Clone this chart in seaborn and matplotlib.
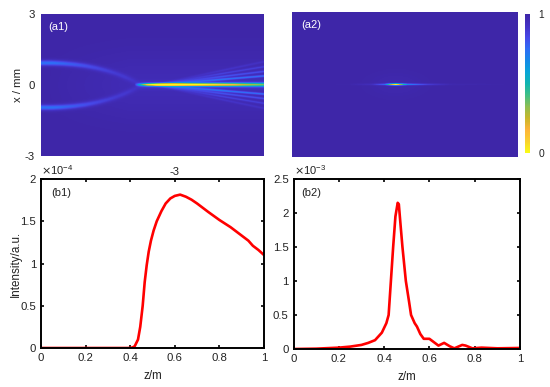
import numpy as np
import matplotlib
matplotlib.use("Agg")
import matplotlib.pyplot as plt
from matplotlib.colors import LinearSegmentedColormap
import seaborn as sns

sns.set_style("white")
plt.rcParams['font.family'] = ['Liberation Sans', 'DejaVu Sans']
plt.rcParams['font.size'] = 8

# (b1) on-axis intensity
b1_z = [0, .2, .39, .40, .41, .42, .435, .445, .456, .465, .474, .483, .493, .505, .519, .54, .559, .58, .60, .624,
        .65, .675, .70, .75, .80, .85, .90, .93, .95, .975, 1.0]
b1_i = [0, 0, 0, 0.002, .006, .02, .10, .25, .50, .78, .98, 1.14, 1.27, 1.39, 1.50, 1.62, 1.71, 1.77, 1.80, 1.815,
        1.79, 1.755, 1.71, 1.61, 1.515, 1.43, 1.33, 1.27, 1.21, 1.16, 1.10]
# (b2) on-axis intensity
b2_z = [0, .1, .2, .25, .3, .33, .36, .39, .41, .42, .43, .44, .45, .46, .465, .472, .481, .496, .51, .519, .535,
        .545, .56, .575, .60, .62, .64, .665, .69, .71, .745, .76, .79, .83, .9, 1.0]
b2_i = [0, .005, .02, .035, .06, .09, .13, .24, .38, .50, 1.0, 1.5, 1.95, 2.15, 2.13, 1.85, 1.5, 1.0, .70, .50, .38,
        .33, .22, .15, .15, .10, .05, .09, .04, .01, .06, .05, .01, .02, .01, .015]

# (a1) field read-offs: ridge position, ridge height, core profile, fringes
arc_z = [0, .05, .1, .15, .2, .25, .3, .34, .38, .41, .44]
arc_x = [.92, .92, .90, .86, .80, .71, .59, .47, .32, .19, .04]
arc_h = [.26, .26, .23, .20, .17, .14, .11, .09, .08, .06, .05]
core_z = [0, .42, .44, .46, .48, .52, .60, .70, .78, .86, .92, 1.0]
core_h = [0, 0, .30, .55, .80, .97, 1.0, .90, .82, .72, .62, .52]
fringe_slope = [.38, .57, .77, .98]
fringe_h = [.26, .17, .12, .07]
# (a2) focal spot read-offs
spot_z = [0, .25, .35, .41, .44, .46, .48, .51, .60, .70, 1.0]
spot_h = [0, .005, .05, .22, .75, 1.0, .70, .30, .12, .02, 0]

parula_rev = ['#f9fb15', '#f9d12e', '#fdb43a', '#c8b72a', '#8dbe52', '#3fbf85', '#10b5b0', '#08a5d8',
              '#1589e8', '#2f6cf5', '#4648e8', '#4331c4', '#3e26a8']
cmap = LinearSegmentedColormap.from_list('parula_r', parula_rev)

nz, nx = 446, 285
z = np.linspace(0, 1, nz)
x = np.linspace(3, -3, nx)
Z, X = np.meshgrid(z, x)

def gauss(v, c, w):
    return np.exp(-((v - c) / w) ** 2)

def soften(a, n):
    k = np.hanning(2 * n + 3)[1:-1]
    k = k / k.sum()
    return np.apply_along_axis(lambda r: np.convolve(np.pad(r, n, mode='edge'), k, mode='valid'), 1, a)

# a1
arc_pos = np.interp(Z, arc_z, arc_x)
arc_amp = np.interp(Z, arc_z, arc_h)
I1 = arc_amp * (gauss(X, arc_pos + .01, .12) + gauss(X, -arc_pos - .03, .12))
I1 = soften(I1, 8)
I1 += 0.04 * gauss(X, 0, 1.3) * np.clip(Z * 2.5, 0, 1)
I1 += np.interp(Z, core_z, core_h) * gauss(X, 0.015, .04 + .04 * Z)
fan = np.clip((Z - .5) / .5, 0, 1)
for s, h in zip(fringe_slope, fringe_h):
    for sign in (1, -1):
        I1 += h * np.clip(fan * 1.6, 0, 1) * (1 - .2 * fan) * gauss(X, sign * s * fan, .05)
I1 = np.clip(I1, 0, 1)
field1 = 1 - I1

# a2
I2 = np.interp(Z, spot_z, spot_h) * gauss(X, 0.005, .04)
I2 += .02 * gauss(Z, .46, .12) * gauss(X, 0, .5)
field2 = 1 - np.clip(I2, 0, 1)

fig = plt.figure(figsize=(5.5, 3.87), dpi=100)
W, H = 550, 387
def box(l, t, r, b):
    return [l / W, 1 - b / H, (r - l) / W, (b - t) / H]

a1 = fig.add_axes(box(40.5, 13.5, 263.5, 156))
a2 = fig.add_axes(box(292, 12, 518, 157))
cb = fig.add_axes(box(525, 14, 530, 153))
b1 = fig.add_axes(box(41, 179, 264, 348))
b2 = fig.add_axes(box(293.5, 179, 520, 349))

sns.heatmap(field1, ax=a1, cmap=cmap, vmin=0, vmax=1, cbar=False, xticklabels=False, yticklabels=False)
sns.heatmap(field2, ax=a2, cmap=cmap, vmin=0, vmax=1, cbar_ax=cb, xticklabels=False, yticklabels=False,
            cbar_kws={'ticks': [0, 1]})
cb.tick_params(length=0, labelsize=7.4, pad=6, colors='#222222')
cb.set_yticklabels(['0', '1'])
for s in cb.spines.values():
    s.set_visible(False)

a1.set_yticks([0.5, nx / 2, nx - 0.5])
a1.set_yticklabels(['3', '0', '-3'], rotation=0, fontsize=8.2, color='#222222')
a1.tick_params(axis='y', length=0, pad=4, left=False)
a1.set_ylabel('x / mm', fontsize=8.2, labelpad=1, color='#222222')
a1.text(0.035, 0.905, '(a1)', transform=a1.transAxes, color='white', fontsize=8, va='center')
a2.text(0.04, 0.91, '(a2)', transform=a2.transAxes, color='white', fontsize=8, va='center')
for a in (a1, a2):
    for s in a.spines.values():
        s.set_visible(False)

sns.lineplot(x=b1_z, y=b1_i, ax=b1, color='#ff0000', linewidth=1.9, estimator=None, sort=False)
sns.lineplot(x=b2_z, y=b2_i, ax=b2, color='#ff0000', linewidth=1.9, estimator=None, sort=False)

b1.set_ylim(0, 2)
b1.set_yticks([0, .5, 1, 1.5, 2])
b1.set_yticklabels(['0', '0.5', '1', '1.5', '2'])
b2.set_ylim(0, 2.5)
b2.set_yticks([0, .5, 1, 1.5, 2, 2.5])
b2.set_yticklabels(['0', '0.5', '1', '1.5', '2', '2.5'])
for a in (b1, b2):
    a.set_xlim(0, 1)
    a.set_xticks([0, .2, .4, .6, .8, 1])
    a.set_xticklabels(['0', '0.2', '0.4', '0.6', '0.8', '1'])
    a.set_xlabel('z/m', fontsize=8.4, labelpad=5, color='#222222')
    a.tick_params(direction='in', top=True, right=True, bottom=True, left=True, length=2, width=1.2,
                  labelsize=8.2, pad=3.5, color='black', labelcolor='#222222')
    for s in a.spines.values():
        s.set_linewidth(1.4)
        s.set_color('black')
b1.set_ylabel('Intensity/a.u.', fontsize=8.4, labelpad=-1, color='#222222')
b1.text(0.045, 0.915, '(b1)', transform=b1.transAxes, fontsize=8, va='center', color='#222222')
b2.text(0.035, 0.915, '(b2)', transform=b2.transAxes, fontsize=8, va='center', color='#222222')

b1.text(0, 1.012, r'$\times$10$^{\mathregular{-4}}$', transform=b1.transAxes, fontsize=8, va='bottom', color='#222222')
b2.text(0, 1.012, r'$\times$10$^{\mathregular{-3}}$', transform=b2.transAxes, fontsize=8, va='bottom', color='#222222')
fig.text(175 / W, 1 - 172 / H, '-3', fontsize=8, ha='center', va='center', color='#222222')

fig.savefig('out.png', dpi=100)
